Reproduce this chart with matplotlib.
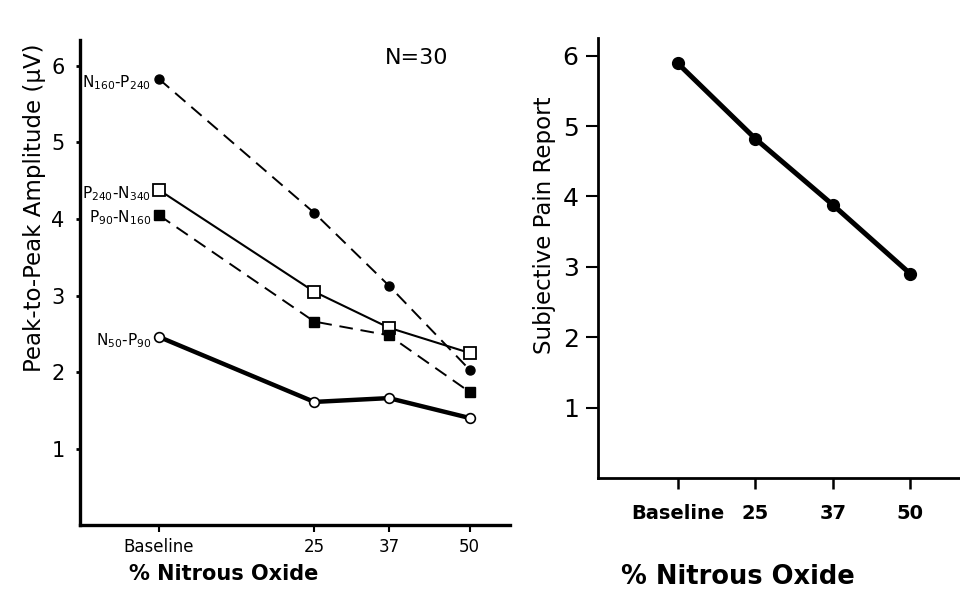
import matplotlib
matplotlib.use("Agg")
import matplotlib.pyplot as plt

# ---- data ----
n2o_pct = [0, 25, 37, 50]
x_labels = ["Baseline", "25", "37", "50"]

n160_p240 = [5.83, 4.08, 3.13, 2.03]
p240_n340 = [4.38, 3.05, 2.58, 2.25]
p90_n160 = [4.05, 2.66, 2.48, 1.74]
n50_p90 = [2.46, 1.61, 1.66, 1.40]

pain_report = [5.89, 4.82, 3.88, 2.90]

series_names = [r"N$_{160}$-P$_{240}$", r"P$_{240}$-N$_{340}$",
                r"P$_{90}$-N$_{160}$", r"N$_{50}$-P$_{90}$"]

plt.rcParams['font.family'] = ['DejaVu Sans']
plt.rcParams['mathtext.fontset'] = 'dejavusans'

fig = plt.figure(figsize=(9.6, 6.05), dpi=100)
axL = fig.add_axes([0.0833, 0.132, 0.448, 0.802])
axR = fig.add_axes([0.623, 0.21, 0.377, 0.727])

k = 'black'
dash = (0, (7, 4))
# ---- left panel ----
axL.plot(n2o_pct, n160_p240, color=k, lw=1.4, ls=dash, marker='o',
         ms=6.5, mfc=k, mec=k)
axL.plot(n2o_pct, p240_n340, color=k, lw=1.5, ls='-', marker='s',
         ms=8, mfc='white', mec=k, mew=1.3)
axL.plot(n2o_pct, p90_n160, color=k, lw=1.4, ls=dash, marker='s',
         ms=6.5, mfc=k, mec=k)
axL.plot(n2o_pct, n50_p90, color=k, lw=3.2, ls='-', marker='o',
         ms=7, mfc='white', mec=k, mew=1.2)

lab_vals = [n160_p240[0], p240_n340[0], p90_n160[0], n50_p90[0]]
lab_offs = [-0.05, -0.05, -0.03, -0.05]
for name, v, off in zip(series_names, lab_vals, lab_offs):
    axL.text(n2o_pct[0] - 1.2, v + off, name, ha='right', va='center',
             fontsize=11)

axL.text(41.5, 6.1, "N=30", ha='center', va='center', fontsize=16)

axL.set_xlim(-12.7, 56.5)
axL.set_ylim(0, 6.34)
axL.set_xticks(n2o_pct)
axL.set_xticklabels(x_labels, fontsize=12)
axL.set_yticks([1, 2, 3, 4, 5, 6])
axL.set_yticklabels(['1', '2', '3', '4', '5', '6'], fontsize=15)
axL.tick_params(axis='x', direction='out', length=5, width=1.5, pad=4)
axL.tick_params(axis='y', direction='out', length=3, width=2, pad=8)
for s in ['top', 'right']:
    axL.spines[s].set_visible(False)
for s in ['left', 'bottom']:
    axL.spines[s].set_linewidth(2.4)
axL.set_xlabel("% Nitrous Oxide", fontsize=15, fontweight='bold')
axL.xaxis.set_label_coords(0.335, -0.08)
axL.set_ylabel("Peak-to-Peak Amplitude (\u00b5V)", fontsize=16.5)
axL.yaxis.set_label_coords(-0.08, 0.655)

# ---- right panel ----
xr = list(range(len(x_labels)))
axR.plot(xr, pain_report, color=k, lw=3.6, marker='o', ms=8.5, mfc=k, mec=k)
axR.set_xlim(-1.03, 3.64)
axR.set_ylim(0, 6.25)
axR.set_xticks(xr)
axR.set_xticklabels(x_labels, fontsize=14, fontweight='bold')
axR.set_yticks([1, 2, 3, 4, 5, 6])
axR.set_yticklabels(['1', '2', '3', '4', '5', '6'], fontsize=18)
axR.tick_params(axis='x', direction='out', length=8, width=1.8, pad=11)
axR.tick_params(axis='y', direction='out', length=9, width=1.5, pad=5)
for s in ['top', 'right']:
    axR.spines[s].set_visible(False)
for s in ['left', 'bottom']:
    axR.spines[s].set_linewidth(2.0)
axR.set_xlabel("% Nitrous Oxide", fontsize=18.5, fontweight='bold')
axR.xaxis.set_label_coords(0.386, -0.195)
axR.set_ylabel("Subjective Pain Report", fontsize=16.5)
axR.yaxis.set_label_coords(-0.115, 0.575)

fig.savefig("out.png", dpi=100)
